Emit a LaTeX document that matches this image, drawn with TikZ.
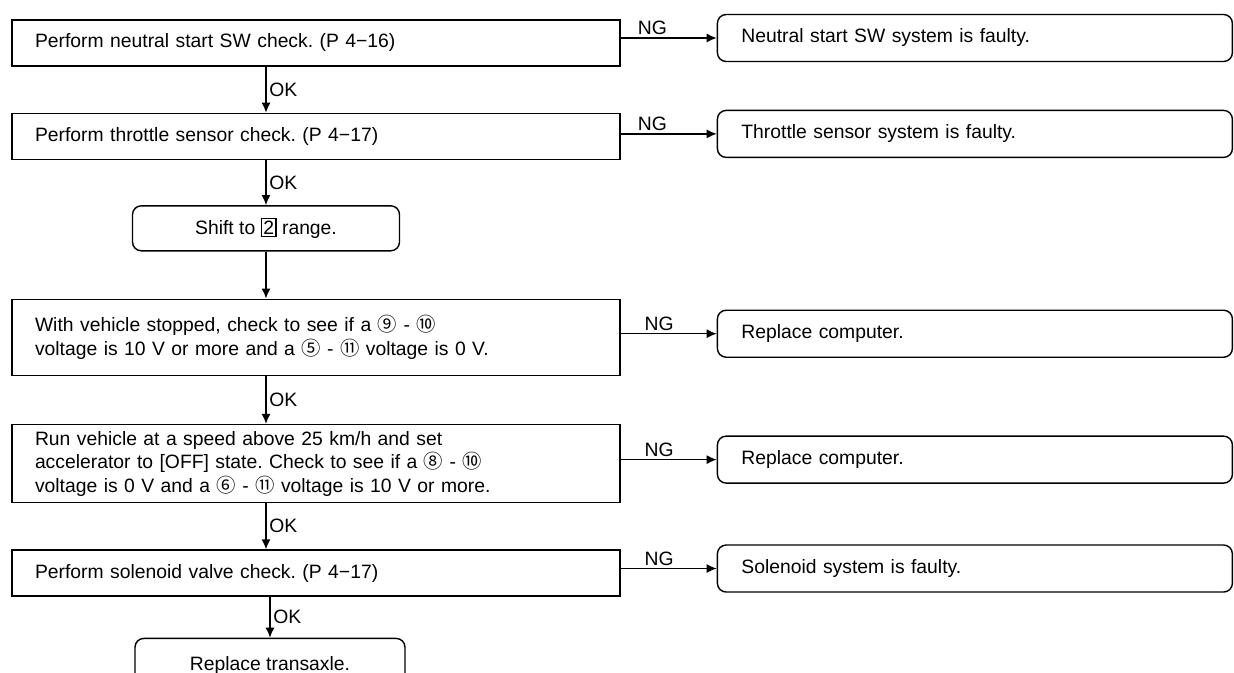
\documentclass[tikz,border=0pt]{standalone}
\usepackage{fontspec}
\setmainfont{Liberation Sans}
\newfontfamily\symfont{Noto Sans CJK JP}
\usetikzlibrary{arrows.meta,positioning}
\newcommand{\cnum}[1]{{\symfont #1}}
\newcommand{\keynum}[1]{{\setlength{\fboxsep}{0.8pt}\setlength{\fboxrule}{0.7pt}\fbox{#1}}}
\frenchspacing

\begin{document}
\begin{tikzpicture}[
  check/.style={draw, line width=0.8pt, text width=11.24cm, inner xsep=0.46cm, minimum height=0.92cm, align=left, font=\fontsize{11}{13.4}\selectfont},
  result/.style={draw, line width=0.8pt, rounded corners=5pt, text width=9.34cm, inner xsep=0.48cm, minimum height=0.94cm, align=left, font=\fontsize{11}{13.4}\selectfont},
  action/.style={draw, line width=0.8pt, rounded corners=5pt, minimum height=0.9cm, align=center, font=\fontsize{11}{13.4}\selectfont},
  arr/.style={line width=0.8pt, -{Latex[length=2mm, width=1.8mm]}},
  lbl/.style={font=\fontsize{11}{12}\selectfont, inner sep=1.5pt}
]
\useasboundingbox (0,0) rectangle (24.68,-13.46);

\node[check] (neutral) at (6.32,-0.86) {Perform neutral start SW check. (P 4−16)};
\node[check, below=0.92cm of neutral] (throttle) {Perform throttle sensor check. (P 4−17)};
\node[action, minimum width=5.34cm, below=0.9cm of throttle, xshift=-1cm] (shift) {Shift to \keynum{2} range.};
\node[check, minimum height=1.52cm, below=0.94cm of shift, xshift=1cm] (stopped) {With vehicle stopped, check to see if a \cnum{⑨} - \cnum{⑩}\\voltage is 10 V or more and a \cnum{⑤} - \cnum{⑪} voltage is 0 V.};
\node[check, minimum height=1.56cm, below=0.96cm of stopped] (running) {Run vehicle at a speed above 25 km/h and set\\accelerator to [OFF] state. Check to see if a \cnum{⑧} - \cnum{⑩}\\voltage is 0 V and a \cnum{⑥} - \cnum{⑪} voltage is 10 V or more.};
\node[check, below=0.92cm of running] (solenoid) {Perform solenoid valve check. (P 4−17)};
\node[action, minimum width=5.4cm, minimum height=1.08cm, below=0.82cm of solenoid, xshift=-0.92cm] (transaxle) {Replace transaxle.};

\node[result, right=1.92cm of neutral, yshift=0.1cm] (ngneutral) {Neutral start SW system is faulty.};
\node[result, right=1.92cm of throttle, yshift=0.05cm] (ngthrottle) {Throttle sensor system is faulty.};
\node[result, right=1.92cm of stopped, yshift=0.07cm] (ngstopped) {Replace computer.};
\node[result, right=1.92cm of running, yshift=0.08cm] (ngrunning) {Replace computer.};
\node[result, right=1.92cm of solenoid, yshift=0.09cm] (ngsolenoid) {Solenoid system is faulty.};

\draw[arr] (neutral.south -| shift) -- node[lbl, right] {OK} (throttle.north -| shift);
\draw[arr] (throttle.south -| shift) -- node[lbl, right] {OK} (shift);
\draw[arr] (shift) -- (stopped.north -| shift);
\draw[arr] (stopped.south -| shift) -- node[lbl, right] {OK} (running.north -| shift);
\draw[arr] (running.south -| shift) -- node[lbl, right] {OK} (solenoid.north -| shift);
\draw[arr] (solenoid.south -| transaxle) -- node[lbl, right] {OK} (transaxle);

\draw[arr] (neutral.east |- ngneutral) -- node[lbl, above, pos=0.33] {NG} (ngneutral);
\draw[arr] (throttle.east |- ngthrottle) -- node[lbl, above, pos=0.33] {NG} (ngthrottle);
\draw[arr] (stopped.east |- ngstopped) -- node[lbl, above, pos=0.4] {NG} (ngstopped);
\draw[arr] (running.east |- ngrunning) -- node[lbl, above, pos=0.4] {NG} (ngrunning);
\draw[arr] (solenoid.east |- ngsolenoid) -- node[lbl, above, pos=0.4] {NG} (ngsolenoid);
\end{tikzpicture}
\end{document}
